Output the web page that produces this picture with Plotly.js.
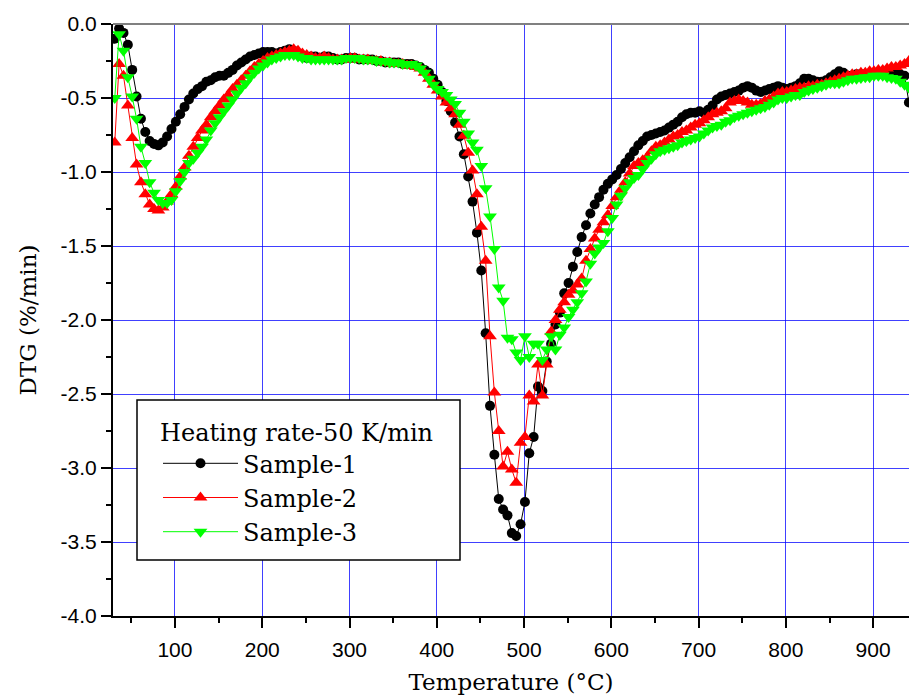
<!DOCTYPE html>
<html>
<head>
<meta charset="utf-8">
<script src="https://cdn.plot.ly/plotly-3.0.1.min.js"></script>
<style>html,body{margin:0;padding:0;background:#fff;}#chart{width:909px;height:695px;}</style>
</head>
<body>
<div id="chart"></div>
<script>
// Temperature (°C) of each sampled point
const temps = [
31,36,41,46,51,56,61,66,71,76,
81,86,91,96,101,106,111,116,121,126,
131,136,141,146,151,156,161,166,171,176,
181,186,191,196,201,206,211,216,221,226,
231,236,241,246,251,256,261,266,271,276,
281,286,291,296,301,306,311,316,321,326,
331,336,341,346,351,356,361,366,371,376,
381,386,391,396,401,406,411,416,421,426,
431,436,441,446,451,456,461,466,471,476,
481,486,491,496,501,506,511,516,521,526,
531,536,541,546,551,556,561,566,571,576,
581,586,591,596,601,606,611,616,621,626,
631,636,641,646,651,656,661,666,671,676,
681,686,691,696,701,706,711,716,721,726,
731,736,741,746,751,756,761,766,771,776,
781,786,791,796,801,806,811,816,821,826,
831,836,841,846,851,856,861,866,871,876,
881,886,891,896,901,906,911,916,921,926,
931,936,941
];

// DTG (%/min)
const sample1 = [
-0.10,-0.03,-0.06,-0.14,-0.31,-0.49,-0.64,-0.73,-0.79,-0.81,
-0.82,-0.80,-0.76,-0.71,-0.66,-0.61,-0.56,-0.51,-0.47,-0.44,
-0.42,-0.39,-0.38,-0.36,-0.35,-0.35,-0.33,-0.31,-0.28,-0.26,
-0.24,-0.22,-0.21,-0.20,-0.19,-0.19,-0.19,-0.20,-0.19,-0.18,
-0.17,-0.18,-0.20,-0.22,-0.23,-0.22,-0.22,-0.23,-0.22,-0.22,
-0.23,-0.24,-0.24,-0.23,-0.23,-0.23,-0.24,-0.24,-0.24,-0.24,
-0.25,-0.25,-0.26,-0.26,-0.26,-0.26,-0.27,-0.27,-0.27,-0.28,
-0.29,-0.31,-0.33,-0.37,-0.41,-0.46,-0.52,-0.59,-0.665,-0.76,
-0.88,-1.03,-1.20,-1.41,-1.665,-2.09,-2.58,-2.91,-3.21,-3.28,
-3.32,-3.44,-3.46,-3.38,-3.23,-2.90,-2.79,-2.45,-2.48,-2.28,
-2.16,-2.03,-1.95,-1.82,-1.75,-1.64,-1.54,-1.44,-1.36,-1.28,
-1.22,-1.17,-1.12,-1.08,-1.05,-1.02,-0.98,-0.94,-0.90,-0.86,
-0.82,-0.79,-0.76,-0.75,-0.74,-0.73,-0.72,-0.70,-0.68,-0.66,
-0.63,-0.61,-0.60,-0.60,-0.59,-0.60,-0.58,-0.55,-0.51,-0.49,
-0.48,-0.47,-0.46,-0.45,-0.43,-0.42,-0.43,-0.45,-0.46,-0.45,
-0.44,-0.43,-0.42,-0.43,-0.44,-0.43,-0.42,-0.40,-0.37,-0.37,
-0.38,-0.39,-0.39,-0.38,-0.36,-0.34,-0.32,-0.33,-0.35,-0.35,
-0.34,-0.34,-0.34,-0.34,-0.34,-0.34,-0.34,-0.33,-0.33,-0.33,
-0.34,-0.35,-0.53
];

const sample2 = [
-0.80,-0.27,-0.35,-0.55,-0.77,-0.95,-1.07,-1.15,-1.22,-1.25,
-1.26,-1.24,-1.20,-1.15,-1.10,-1.03,-0.97,-0.89,-0.83,-0.77,
-0.72,-0.68,-0.63,-0.59,-0.55,-0.51,-0.48,-0.44,-0.41,-0.38,
-0.35,-0.32,-0.29,-0.27,-0.25,-0.23,-0.22,-0.21,-0.20,-0.19,
-0.18,-0.17,-0.18,-0.20,-0.21,-0.22,-0.23,-0.23,-0.22,-0.23,
-0.24,-0.24,-0.24,-0.24,-0.23,-0.23,-0.24,-0.24,-0.24,-0.25,
-0.25,-0.25,-0.26,-0.26,-0.27,-0.27,-0.27,-0.28,-0.28,-0.29,
-0.30,-0.33,-0.37,-0.41,-0.45,-0.49,-0.53,-0.57,-0.61,-0.68,
-0.755,-0.87,-0.99,-1.15,-1.37,-1.60,-2.11,-2.49,-2.75,-2.99,
-2.89,-3.01,-3.10,-2.83,-2.79,-2.51,-2.55,-2.30,-2.51,-2.30,
-2.08,-2.00,-1.93,-1.88,-1.83,-1.80,-1.76,-1.72,-1.60,-1.52,
-1.45,-1.39,-1.34,-1.29,-1.23,-1.17,-1.12,-1.07,-1.01,-0.96,
-0.94,-0.92,-0.90,-0.86,-0.83,-0.82,-0.80,-0.78,-0.76,-0.75,
-0.73,-0.72,-0.70,-0.68,-0.67,-0.65,-0.63,-0.61,-0.60,-0.59,
-0.57,-0.53,-0.52,-0.51,-0.52,-0.53,-0.545,-0.545,-0.54,-0.52,
-0.51,-0.49,-0.47,-0.46,-0.46,-0.45,-0.44,-0.43,-0.43,-0.42,
-0.42,-0.41,-0.41,-0.40,-0.39,-0.38,-0.37,-0.36,-0.35,-0.34,
-0.34,-0.33,-0.33,-0.32,-0.32,-0.31,-0.31,-0.30,-0.29,-0.29,
-0.28,-0.27,-0.25
];

const sample3 = [
-0.50,-0.07,-0.18,-0.36,-0.49,-0.64,-0.83,-0.94,-1.07,-1.14,
-1.19,-1.21,-1.21,-1.19,-1.13,-1.06,-1.00,-0.94,-0.91,-0.87,
-0.83,-0.78,-0.72,-0.67,-0.63,-0.59,-0.55,-0.51,-0.47,-0.43,
-0.40,-0.36,-0.33,-0.30,-0.28,-0.26,-0.24,-0.23,-0.22,-0.21,
-0.21,-0.21,-0.22,-0.23,-0.23,-0.24,-0.24,-0.24,-0.24,-0.24,
-0.24,-0.24,-0.24,-0.23,-0.23,-0.23,-0.23,-0.24,-0.24,-0.24,
-0.25,-0.25,-0.25,-0.26,-0.26,-0.26,-0.27,-0.27,-0.27,-0.28,
-0.30,-0.33,-0.37,-0.41,-0.44,-0.46,-0.48,-0.51,-0.54,-0.60,
-0.66,-0.74,-0.80,-0.85,-0.96,-1.11,-1.30,-1.52,-1.78,-1.87,
-2.12,-2.13,-2.22,-2.27,-2.11,-2.25,-2.16,-2.16,-2.27,-2.20,
-2.11,-2.20,-2.10,-2.05,-1.98,-1.93,-1.88,-1.82,-1.74,-1.62,
-1.55,-1.51,-1.48,-1.40,-1.31,-1.22,-1.16,-1.11,-1.07,-1.04,
-1.02,-0.98,-0.94,-0.91,-0.88,-0.86,-0.85,-0.84,-0.83,-0.82,
-0.80,-0.79,-0.78,-0.77,-0.76,-0.74,-0.72,-0.70,-0.69,-0.68,
-0.66,-0.65,-0.63,-0.62,-0.61,-0.60,-0.59,-0.58,-0.57,-0.56,
-0.545,-0.53,-0.51,-0.50,-0.50,-0.49,-0.48,-0.48,-0.46,-0.45,
-0.44,-0.43,-0.42,-0.41,-0.40,-0.40,-0.40,-0.39,-0.38,-0.37,
-0.37,-0.365,-0.36,-0.36,-0.35,-0.35,-0.35,-0.36,-0.365,-0.37,
-0.39,-0.41,-0.43
];

const seriesNames = ["Sample-1", "Sample-2", "Sample-3"];
const legendTitle = "Heating rate-50 K/min";
const xTickVals = [100, 200, 300, 400, 500, 600, 700, 800, 900];
const xTickText = ["100", "200", "300", "400", "500", "600", "700", "800", "900"];
const yTickVals = [0, -0.5, -1, -1.5, -2, -2.5, -3, -3.5, -4];
const yTickText = ["0.0", "-0.5", "-1.0", "-1.5", "-2.0", "-2.5", "-3.0", "-3.5", "-4.0"];

const serif = "DejaVu Serif, Liberation Serif, serif";
const sans = "Liberation Sans, Arial, sans-serif";

const traces = [
  {x: temps, y: sample1, name: seriesNames[0], type: "scatter", mode: "lines+markers",
   line: {color: "#000000", width: 1}, marker: {symbol: "circle", size: 10, color: "#000000"}},
  {x: temps, y: sample2, name: seriesNames[1], type: "scatter", mode: "lines+markers",
   line: {color: "#ff0000", width: 1}, marker: {symbol: "triangle-up", size: 12, color: "#ff0000"}},
  {x: temps, y: sample3, name: seriesNames[2], type: "scatter", mode: "lines+markers",
   line: {color: "#00ff00", width: 1}, marker: {symbol: "triangle-down", size: 12, color: "#00ff00"}}
];

const L = 113, R = 0, T = 24, B = 79;
const W = 909, H = 695;
const pw = W - L - R, ph = H - T - B;
function px2x(p){ return (p - L) / pw; }
function px2y(p){ return (H - B - p) / ph; }

const layout = {
  width: W, height: H,
  margin: {l: L, r: R, t: T, b: B, pad: 0},
  paper_bgcolor: "#ffffff", plot_bgcolor: "#ffffff",
  showlegend: true,
  xaxis: {
    range: [29, 941.1], autorange: false,
    tickmode: "array", tickvals: xTickVals, ticktext: xTickText,
    ticks: "outside", ticklen: 10, tickwidth: 2, tickcolor: "#000",
    ticklabelstandoff: 4,
    minor: {dtick: 50, tick0: 0, ticks: "outside", ticklen: 5, tickwidth: 2, tickcolor: "#000", showgrid: false},
    showline: true, linecolor: "#000", linewidth: 2, mirror: false,
    showgrid: true, gridcolor: "rgba(0,0,255,0.75)", gridwidth: 1,
    zeroline: false,
    tickfont: {family: sans, size: 21, color: "#000"},
    title: {text: "Temperature (°C)", font: {family: serif, size: 23, color: "#000"}, standoff: 16},
    automargin: false
  },
  yaxis: {
    range: [-4, 0], autorange: false,
    tickmode: "array", tickvals: yTickVals, ticktext: yTickText,
    ticks: "outside", ticklen: 10, tickwidth: 2, tickcolor: "#000",
    minor: {dtick: 0.25, tick0: 0, ticks: "outside", ticklen: 5, tickwidth: 2, tickcolor: "#000", showgrid: false},
    showline: true, linecolor: "#000", linewidth: 2, mirror: false,
    showgrid: true, gridcolor: "rgba(0,0,255,0.75)", gridwidth: 1,
    zeroline: false,
    tickfont: {family: sans, size: 21, color: "#000"},
    title: {text: "DTG (%/min)", font: {family: serif, size: 23, color: "#000"}, standoff: 18},
    automargin: false
  },
  legend: {
    x: px2x(158), y: px2y(410), xanchor: "left", yanchor: "top",
    bgcolor: "rgba(0,0,0,0)", borderwidth: 0,
    font: {family: serif, size: 24, color: "#000"},
    title: {text: legendTitle, font: {family: serif, size: 24, color: "#000"}},
    itemwidth: 75, tracegroupgap: 0
  },
  shapes: [
    {type: "rect", xref: "paper", yref: "paper", layer: "above",
     x0: px2x(137), x1: px2x(460), y0: px2y(560), y1: px2y(400),
     fillcolor: "#ffffff", line: {color: "#000", width: 1.5}},
    {type: "line", xref: "paper", yref: "paper", layer: "above",
     x0: 0, x1: 1, y0: 1, y1: 1, line: {color: "#808080", width: 2}}
  ]
};

Plotly.newPlot("chart", traces, layout, {staticPlot: true, displayModeBar: false});
</script>
</body>
</html>
